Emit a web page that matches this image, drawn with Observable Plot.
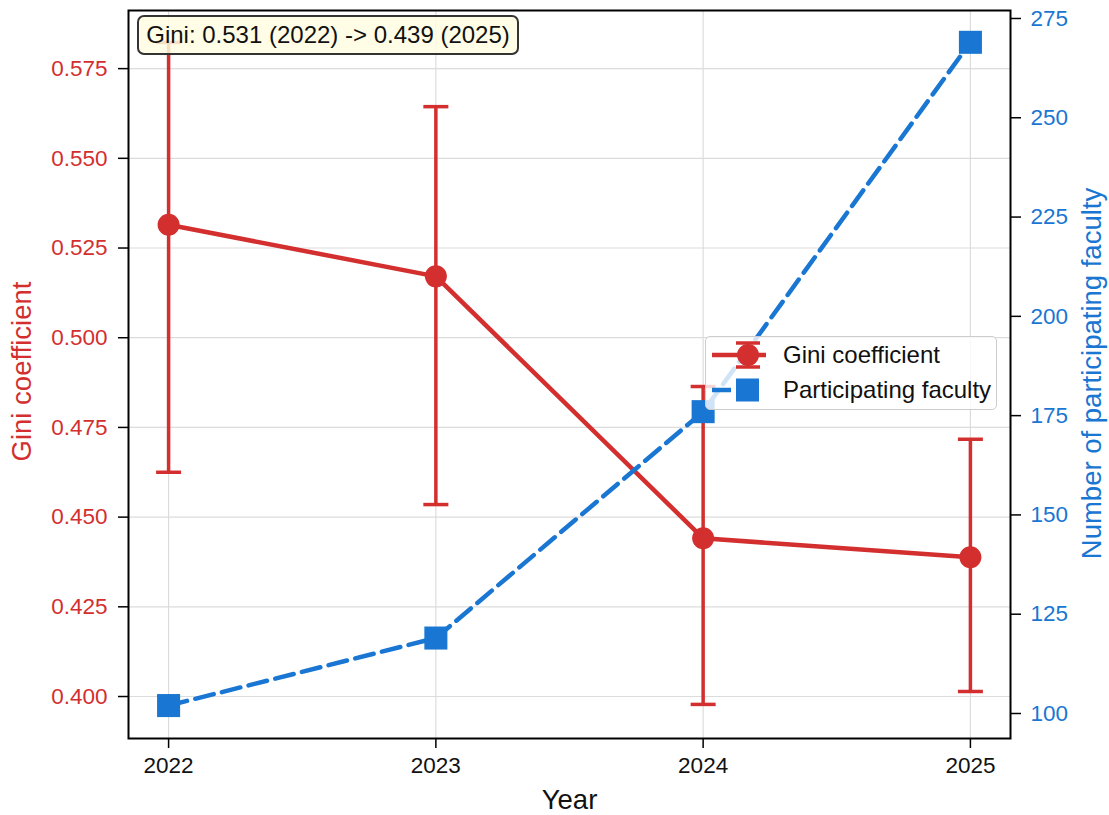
<!DOCTYPE html>
<html>
<head>
<meta charset="utf-8">
<script src="https://cdn.jsdelivr.net/npm/d3@7"></script>
<script src="https://cdn.jsdelivr.net/npm/@observablehq/plot@0.6"></script>
<style>
  html, body { margin: 0; padding: 0; background: #fff; }
  #wrap { position: relative; width: 1109px; height: 815px; font-family: "Liberation Sans", Arial, sans-serif; }
  #note { position: absolute; left: 137px; top: 15px; width: 378px; height: 36px; line-height: 36px; text-align: center;
          background: rgba(255,253,225,0.85); border: 2px solid #333; border-radius: 7px; font-size: 24px; color: #111; white-space: nowrap; }
  #legend { position: absolute; left: 705px; top: 336px; width: 290px; height: 72px;
            background: rgba(255,255,255,0.8); border: 1.2px solid #ccc; border-radius: 5px; font-size: 24px; color: #111; }
  #legend .row { position: absolute; left: 5px; height: 34px; display: flex; align-items: center; }
  #legend svg { width: 56px; height: 34px; margin-right: 16px; }
</style>
</head>
<body>
<div id="wrap">
  <div id="chart"></div>
  <div id="note"></div>
  <div id="legend"></div>
</div>
<script>
// ---- data ----
const years = [2022, 2023, 2024, 2025];
const gini = [0.5315, 0.5171, 0.4441, 0.4388];
const giniLow = [0.4625, 0.4535, 0.3978, 0.4014];
const giniHigh = [0.5823, 0.5644, 0.4864, 0.4717];
const faculty = [102, 119, 176, 269];
const giniTicks = [0.400, 0.425, 0.450, 0.475, 0.500, 0.525, 0.550, 0.575];
const facultyTicks = [100, 125, 150, 175, 200, 225, 250, 275];
const noteText = "Gini: 0.531 (2022) -> 0.439 (2025)";
const seriesNames = ["Gini coefficient", "Participating faculty"];

// ---- styling / scales ----
const RED = "#d32f2f", BLUE = "#1976d2";
const yDom = [0.3883, 0.5912];
const fDom = [93.705, 277.01];
const toLeft = f => yDom[0] + (f - fDom[0]) / (fDom[1] - fDom[0]) * (yDom[1] - yDom[0]);
const fromLeft = y => fDom[0] + (y - yDom[0]) / (yDom[1] - yDom[0]) * (fDom[1] - fDom[0]);

const rows = years.map((y, i) => ({year: y, gini: gini[i], lo: giniLow[i], hi: giniHigh[i], fac: faculty[i], facY: toLeft(faculty[i])}));
const capSymbol = {draw(ctx) { ctx.moveTo(-12.5, 0); ctx.lineTo(12.5, 0); }};
const DASH = "19,8.5";

const chart = Plot.plot({
  width: 1109, height: 815,
  marginLeft: 128, marginRight: 99, marginTop: 10, marginBottom: 77,
  style: {fontFamily: "Liberation Sans, Arial, sans-serif", fontSize: "22.5px", background: "#fff"},
  x: {domain: [2021.85, 2025.15]},
  y: {domain: yDom},
  marks: [
    Plot.gridY(giniTicks, {stroke: "#dcdcdc", strokeOpacity: 1, strokeWidth: 1.2}),
    Plot.gridX(years, {stroke: "#dcdcdc", strokeOpacity: 1, strokeWidth: 1.2}),
    // Gini with error bars
    Plot.ruleX(rows, {x: "year", y1: "lo", y2: "hi", stroke: RED, strokeWidth: 3.5, clip: true}),
    Plot.dot(rows, {x: "year", y: "lo", symbol: capSymbol, stroke: RED, strokeWidth: 3.5, fill: "none", r: 5}),
    Plot.dot(rows, {x: "year", y: "hi", symbol: capSymbol, stroke: RED, strokeWidth: 3.5, fill: "none", r: 5}),
    Plot.line(rows, {x: "year", y: "gini", stroke: RED, strokeWidth: 4.5}),
    Plot.dot(rows, {x: "year", y: "gini", fill: RED, stroke: "none", r: 11}),
    // Faculty on secondary axis
    Plot.line(rows, {x: "year", y: "facY", stroke: BLUE, strokeWidth: 4.5, strokeDasharray: DASH}),
    Plot.dot(rows, {x: "year", y: "facY", symbol: "square", fill: BLUE, stroke: "none", r: 13}),
    // axes
    Plot.axisY(giniTicks, {anchor: "left", tickSize: 10, tickPadding: 11, stroke: "#000", strokeWidth: 1.5, fill: RED, tickFormat: d3.format(".3f"), label: null}),
    Plot.axisY(facultyTicks.map(toLeft), {anchor: "right", tickSize: 10, tickPadding: 10, stroke: "#000", strokeWidth: 1.5, fill: BLUE, tickFormat: d => String(Math.round(fromLeft(d))), label: null}),
    Plot.axisX(years, {anchor: "bottom", tickSize: 10, tickPadding: 9, stroke: "#000", strokeWidth: 1.5, fill: "#111", tickFormat: d => String(d), label: null}),
    Plot.frame({stroke: "#000", strokeWidth: 2}),
    // axis titles
    Plot.text(["Gini coefficient"], {frameAnchor: "left", textAnchor: "middle", lineAnchor: "middle", dx: -106, dy: -3, rotate: -90, fill: RED, fontSize: 27.5, text: d => d}),
    Plot.text(["Number of participating faculty"], {frameAnchor: "right", textAnchor: "middle", lineAnchor: "middle", dx: 82, dy: -1, rotate: -90, fill: BLUE, fontSize: 27.5, text: d => d}),
    Plot.text(["Year"], {frameAnchor: "bottom", dy: 70, fill: "#111", fontSize: 27.5, text: d => d})
  ]
});
document.getElementById("chart").appendChild(chart);

document.getElementById("note").textContent = noteText;

const legend = document.getElementById("legend");
legend.innerHTML = `
  <div class="row" style="top:1px">
    <svg viewBox="0 0 56 34"><line x1="1" x2="55" y1="17" y2="17" stroke="${RED}" stroke-width="4.5"/>
      <line x1="37" x2="37" y1="5" y2="29" stroke="${RED}" stroke-width="3.5"/>
      <line x1="25" x2="49" y1="5" y2="5" stroke="${RED}" stroke-width="3.5"/>
      <line x1="25" x2="49" y1="29" y2="29" stroke="${RED}" stroke-width="3.5"/>
      <circle cx="37" cy="17" r="11" fill="${RED}"/></svg><span>${seriesNames[0]}</span>
  </div>
  <div class="row" style="top:36px">
    <svg viewBox="0 0 56 34"><line x1="1" x2="55" y1="17" y2="17" stroke="${BLUE}" stroke-width="4.5" stroke-dasharray="${DASH}"/>
      <rect x="25" y="5.5" width="23" height="23" fill="${BLUE}"/></svg><span>${seriesNames[1]}</span>
  </div>`;
</script>
</body>
</html>
